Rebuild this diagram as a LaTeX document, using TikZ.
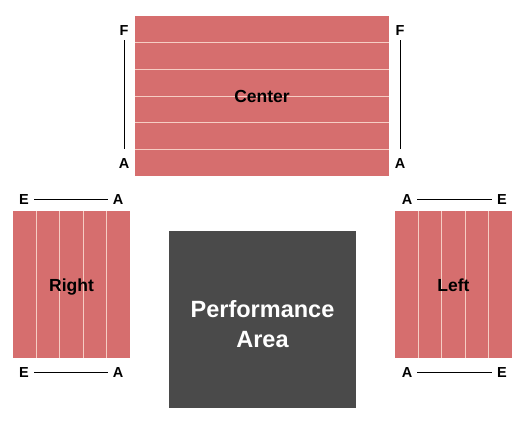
\documentclass[tikz,border=0pt]{standalone}
\usepackage{fontspec}
\setmainfont{Liberation Sans}
\usepackage{xcolor}
\usepackage{tikz}
\usetikzlibrary{positioning,calc}

\definecolor{seatred}{RGB}{214,110,110}
\definecolor{rowpink}{RGB}{246,205,196}
\definecolor{stagegray}{RGB}{74,74,74}

\begin{document}
\begin{tikzpicture}[
    x=1pt, y=-1pt,
    font=\bfseries,
    section/.style={rectangle, fill=seatred, draw=none, inner sep=0pt},
    stage/.style={rectangle, fill=stagegray, draw=none, inner sep=0pt},
    secname/.style={inner sep=0pt, text height=13pt, text depth=0pt, font=\fontsize{17.5}{20}\selectfont\bfseries},
    stagename/.style={inner sep=0pt, text=white, align=center, font=\fontsize{23.5}{30}\selectfont\bfseries},
    rowlabel/.style={inner sep=5pt, text height=10.5pt, text depth=0pt, font=\fontsize{14.5}{16}\selectfont\bfseries},
    rowline/.style={draw=rowpink, line width=0.9pt},
    guide/.style={draw=black, line width=0.9pt}
]
    \useasboundingbox (0,0) rectangle (525,425);

    \node[section, minimum width=254pt, minimum height=160pt] (CENTER) at (262,96) {};
    \node[section, minimum width=117pt, minimum height=147pt] (RIGHT) at (71.5,284.5) {};
    \node[section, minimum width=117pt, minimum height=147pt] (LEFT) at (453.5,284.5) {};
    \node[stage, minimum width=187pt, minimum height=177pt] (STAGE) at (262.5,319.5) {};

    % rows inside the sections
    \foreach \k in {1,...,5}
        \draw[rowline] ($(CENTER.north west)!\k/6!(CENTER.south west)$) -- ($(CENTER.north east)!\k/6!(CENTER.south east)$);
    \foreach \k in {1,...,4} {
        \draw[rowline] ($(RIGHT.north west)!\k/5!(RIGHT.north east)$) -- ($(RIGHT.south west)!\k/5!(RIGHT.south east)$);
        \draw[rowline] ($(LEFT.north west)!\k/5!(LEFT.north east)$) -- ($(LEFT.south west)!\k/5!(LEFT.south east)$);
    }

    % section names
    \node[secname] (CENTERname) at (CENTER.center) {Center};
    \node[secname] (RIGHTname) at (RIGHT.center) {Right};
    \node[secname] (LEFTname) at (LEFT.center) {Left};
    \node[stagename, yshift=-5pt] (STAGEname) at (STAGE.center) {Performance\\Area};

    % row letters
    \node[rowlabel] (CFL) at (124,30) {F};
    \node[rowlabel] (CAL) at (124,163) {A};
    \node[rowlabel] (CFR) at (400,30) {F};
    \node[rowlabel] (CAR) at (400,163) {A};

    \node[rowlabel] (REtop) at (24,199) {E};
    \node[rowlabel] (RAtop) at (118,199) {A};
    \node[rowlabel] (REbot) at (24,372) {E};
    \node[rowlabel] (RAbot) at (118,372) {A};

    \node[rowlabel] (LAtop) at (407,199) {A};
    \node[rowlabel] (LEtop) at (502,199) {E};
    \node[rowlabel] (LAbot) at (407,372) {A};
    \node[rowlabel] (LEbot) at (502,372) {E};

    \draw[guide, shorten >=4pt] (CFL) -- (CAL);
    \draw[guide, shorten >=4pt] (CFR) -- (CAR);
    \draw[guide] (REtop) -- (RAtop);
    \draw[guide] (REbot) -- (RAbot);
    \draw[guide] (LAtop) -- (LEtop);
    \draw[guide] (LAbot) -- (LEbot);
\end{tikzpicture}
\end{document}
